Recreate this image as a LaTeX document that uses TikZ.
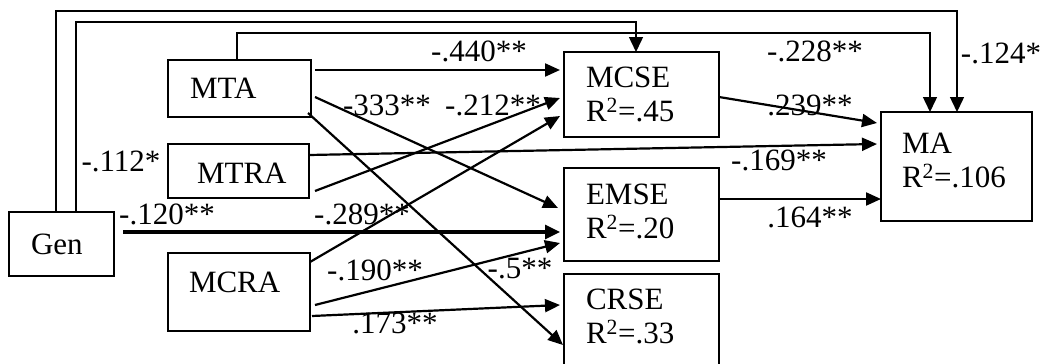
\documentclass[tikz,border=0pt]{standalone}
\usepackage{fontspec}
\setmainfont{Liberation Serif}
\usetikzlibrary{arrows.meta}
\begin{document}
\begin{tikzpicture}[x=1pt,y=-1pt,
  font=\fontsize{31}{34}\selectfont,
  box/.style={draw, line width=1.5pt, anchor=north west, inner sep=0pt, outer sep=0pt, align=left},
  pathline/.style={line width=2.2pt, -{Triangle[length=15pt,width=13pt]}},
  thickline/.style={line width=3.2pt, -{Triangle[length=15pt,width=14pt]}},
  rail/.style={line width=1.5pt, -{Triangle[length=15pt,width=14pt]}},
  coef/.style={inner sep=0pt}]
\useasboundingbox (0,0) rectangle (1044,364);
\clip (0,0) rectangle (1044,364);

% variables
\node[box, minimum width=105pt, minimum height=64pt, text width=61pt] (gen) at (9,212) {Gen};
\node[box, minimum width=143pt, minimum height=57pt, text width=99pt] (mta) at (168,60) {MTA};
\node[box, minimum width=141pt, minimum height=54pt, text width=83pt, text height=24pt] (mtra) at (168,144) {MTRA};
\node[box, minimum width=142pt, minimum height=78pt, text width=100pt, text depth=20pt] (mcra) at (168,253) {MCRA};
\node[box, minimum width=155pt, minimum height=85pt, text width=111pt] (mcse) at (564,52) {MCSE\\R\textsuperscript{2}=.45};
\node[box, minimum width=155pt, minimum height=93pt, text width=111pt, text depth=40pt] (emse) at (564,168) {EMSE\\R\textsuperscript{2}=.20};
\node[box, minimum width=155pt, minimum height=100pt, text width=111pt, text depth=49pt] (crse) at (564,274) {CRSE\\R\textsuperscript{2}=.33};
\node[box, minimum width=151pt, minimum height=109pt, text width=109pt, text depth=47pt] (ma) at (881,112) {MA\\R\textsuperscript{2}=.106};

% rails across the top
\coordinate (r1) at (0,11);
\coordinate (r2) at (0,22);
\coordinate (r3) at (0,33);
\draw[rail] ([xshift=-5.5pt]gen.north) -- ([xshift=-5.5pt]gen.north |- r1) -| ([xshift=0.5pt]ma.north);
\draw[rail] ([xshift=14.5pt]gen.north) -- ([xshift=14.5pt]gen.north |- r2) -| ([xshift=-5.5pt]mcse.north);
\draw[rail] ([xshift=-2.5pt]mta.north) -- ([xshift=-2.5pt]mta.north |- r3) -| ([xshift=-26.5pt]ma.north);

% direct paths
\draw[pathline] ([shift={(4,-18.5)}]mta.east) -- ([shift={(-4,-24.5)}]mcse.west);
\draw[pathline] ([shift={(4,8.5)}]mta.east) -- ([shift={(-6,-6.5)}]emse.west);
\draw[pathline] ([shift={(-3,-4)}]mta.south east) -- ([shift={(-1,21)}]crse.west);
\draw[pathline] ([shift={(6,20)}]mtra.east) -- ([shift={(-4,3.5)}]mcse.west);
\draw[pathline] ([shift={(0,-16)}]mtra.east) -- ([shift={(-4,-22.5)}]ma.west);
\draw[pathline] ([shift={(0,-30)}]mcra.east) -- ([shift={(-4,21.5)}]mcse.west);
\draw[pathline] ([shift={(5,13)}]mcra.east) -- ([shift={(-4,28.5)}]emse.west);
\draw[pathline] ([shift={(2,24)}]mcra.east) -- ([shift={(-4,-19)}]crse.west);
\draw[thickline] ([shift={(9,-12)}]gen.east) -- ([shift={(-4,17.5)}]emse.west);
\draw[pathline] ([shift={(0,2.5)}]mcse.east) -- ([shift={(-4,-43.5)}]ma.west);
\draw[pathline] ([shift={(0,-15.5)}]emse.east) -- ([shift={(0,32.5)}]ma.west);

% path coefficients
\node[coef] (k124) at (1001,53) {-.124*};
\node[coef] (k228) at (815,51) {-.228**};
\node[coef] (k440) at (479,51) {-.440**};
\node[coef] (k333) at (387,105) {-333**};
\node[coef] (k212) at (493,105) {-.212**};
\node[coef] (k239) at (810,105) {.239**};
\node[coef] (k169) at (779,160) {-.169**};
\node[coef] (k112) at (121,161) {-.112*};
\node[coef] (k120) at (167,214) {-.120**};
\node[coef] (k289) at (362,214) {-.289**};
\node[coef] (k190) at (375,270) {-.190**};
\node[coef] (k5) at (520,269) {-.5**};
\node[coef] (k173) at (395,323) {.173**};
\node[coef] (k164) at (810,217) {.164**};
\end{tikzpicture}
\end{document}
